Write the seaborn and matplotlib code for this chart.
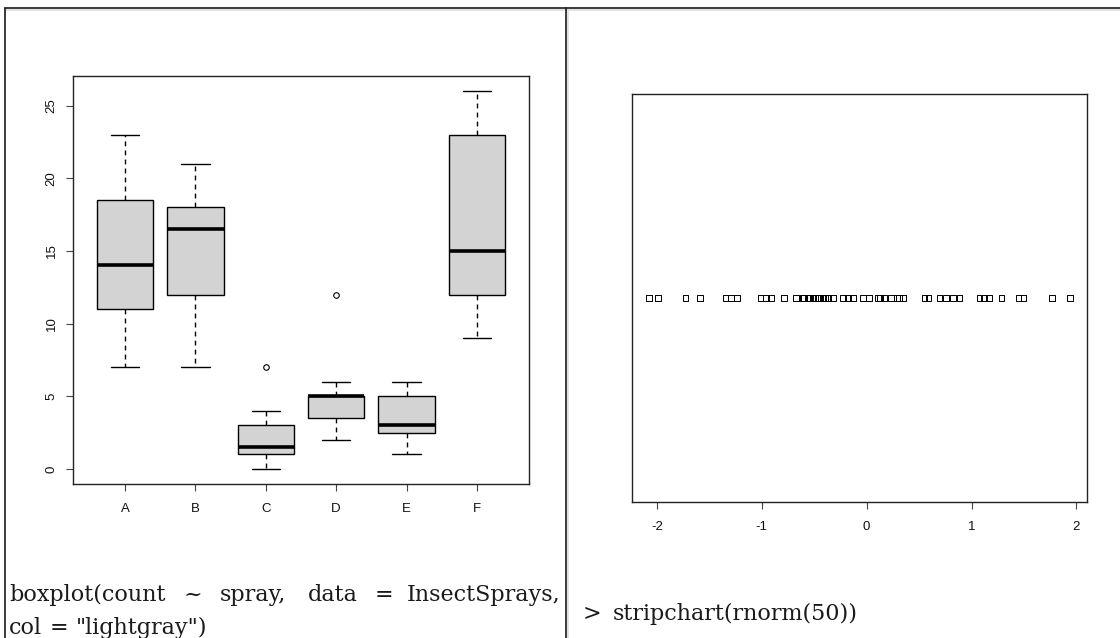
import numpy as np
import pandas as pd
import seaborn as sns
import matplotlib.pyplot as plt
from matplotlib.lines import Line2D

# boxplot(count ~ spray, data = InsectSprays) - summaries
sprays = ['A', 'B', 'C', 'D', 'E', 'F']
whisk_lo = [7, 7, 0, 2, 1, 9]
hinge_lo = [11, 12, 1, 3.5, 2.5, 12]
medians = [14, 16.5, 1.5, 5, 3, 15]
hinge_hi = [18.5, 18, 3, 5, 5, 23]
whisk_hi = [23, 21, 4, 6, 6, 26]
outliers = [None, None, 7, 12, None, None]

# stripchart(rnorm(50)) - point positions
strip_x = [-2.076, -1.990, -1.727, -1.590, -1.346, -1.295, -1.235, -1.012,
           -0.959, -0.908, -0.788, -0.673, -0.610, -0.595, -0.562, -0.540,
           -0.514, -0.490, -0.467, -0.440, -0.419, -0.395, -0.371, -0.324,
           -0.229, -0.181, -0.133, -0.031, 0.019, 0.105, 0.130, 0.171,
           0.229, 0.286, 0.310, 0.343, 0.552, 0.590, 0.695, 0.759, 0.822,
           0.886, 1.076, 1.117, 1.165, 1.286, 1.448, 1.495, 1.765, 1.940]

# long table that gives back the same five numbers under seaborn's quartiles
rows = []
for i, s in enumerate(sprays):
    last = outliers[i] if outliers[i] is not None else whisk_hi[i]
    vals = [whisk_lo[i], hinge_lo[i], hinge_lo[i], medians[i], medians[i],
            hinge_hi[i], hinge_hi[i], whisk_hi[i], last]
    rows += [[s, v] for v in vals]
box_df = pd.DataFrame(rows, columns=['spray', 'count'])

sns.set_style('white')
plt.rcParams['font.family'] = ['Liberation Sans', 'DejaVu Sans']

W, H = 1120, 638
fig = plt.figure(figsize=(W / 100, H / 100), dpi=100)

def px_axes(x0, y0, x1, y1):
    return fig.add_axes([x0 / W, 1 - y1 / H, (x1 - x0) / W, (y1 - y0) / H])

ax1 = px_axes(73, 76, 529, 484)
ax2 = px_axes(632, 94, 1087, 502)

sns.boxplot(data=box_df, x='spray', y='count', ax=ax1, color='lightgray',
            linecolor='black', linewidth=1, width=0.8, saturation=1, whis=1.5,
            whiskerprops={'linestyle': (0, (3.5, 3))},
            medianprops={'linewidth': 2.6, 'solid_capstyle': 'butt'},
            flierprops={'marker': 'o', 'markerfacecolor': 'none',
                        'markeredgecolor': 'black', 'markersize': 4,
                        'markeredgewidth': 0.8})
ax1.set_xlim(-0.74, 5.74)
ax1.set_ylim(-1.04, 27.04)
ax1.set_yticks([0, 5, 10, 15, 20, 25])
ax1.set_xlabel('')
ax1.set_ylabel('')
for lab in ax1.get_yticklabels():
    lab.set_rotation(90)
    lab.set_va('center')

sns.stripplot(x=strip_x, ax=ax2, jitter=False, marker='s', size=4.2,
              facecolors='none', edgecolor='black', linewidth=0.7)
lo, hi = min(strip_x), max(strip_x)
pad = 0.04 * (hi - lo)
ax2.set_xlim(lo - pad, hi + pad)
ax2.set_ylim(-1, 1)
ax2.set_yticks([])
ax2.set_xticks([-2, -1, 0, 1, 2])
ax2.set_xticklabels(['-2', '-1', '0', '1', '2'])

for ax in (ax1, ax2):
    for sp in ax.spines.values():
        sp.set_color('#222222')
        sp.set_linewidth(1)
    ax.tick_params(bottom=True, left=(ax is ax1), direction='out', length=5,
                   width=0.8, color='#444444', labelsize=9.5, labelcolor='#111111')
    ax.tick_params(axis='x', pad=9)
    ax.tick_params(axis='y', pad=6)

# table borders
for x0, y0, x1, y1, c in [(5, 8, 1120, 8, '#1a1a1a'), (5, 10, 1120, 10, '#dddddd'),
                          (5, 8, 5, 638, '#1a1a1a'), (566, 8, 566, 638, '#1a1a1a'),
                          (568, 10, 568, 638, '#dddddd')]:
    fig.add_artist(Line2D([x0 / W, x1 / W], [1 - y0 / H, 1 - y1 / H], color=c, lw=1.2))

cap = dict(family=['DejaVu Serif'], fontsize=16, color='#1a1a1a', va='baseline')
def put(x, y, s, ha='left'):
    fig.text(x / W, 1 - y / H, s, ha=ha, **cap)

for s, x in [('boxplot(count', 9), ('~', 184), ('spray,', 220), ('data', 308), ('=', 375)]:
    put(x, 601, s)
put(560, 601, 'InsectSprays,', ha='right')
put(9, 634, 'col')
put(50, 634, '=')
put(76, 634, '"lightgray")')
put(583, 620, '>')
put(613, 620, 'stripchart(rnorm(50))')

fig.savefig('out.png', dpi=100)
